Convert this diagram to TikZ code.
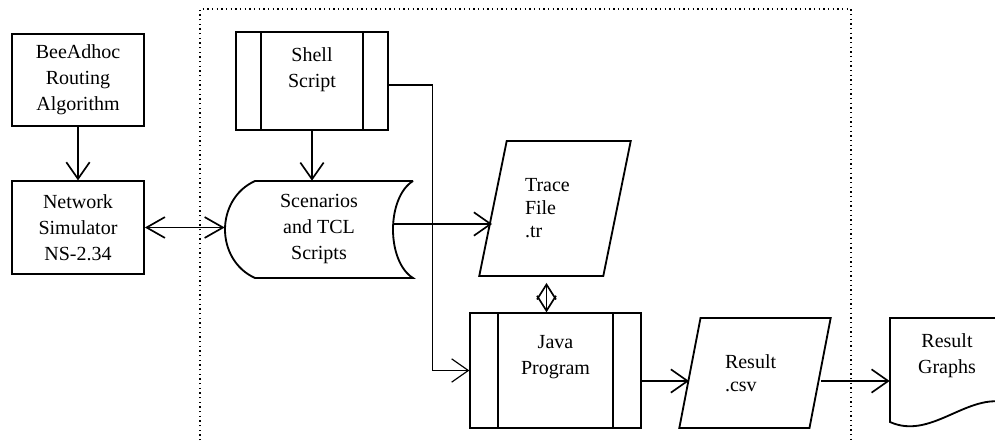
\documentclass[tikz,border=0pt]{standalone}
\usepackage{fontspec}
\setmainfont{Liberation Serif}
\usetikzlibrary{arrows.meta,positioning,calc,shapes.geometric}

\begin{document}
\begin{tikzpicture}[
    x=0.6pt, y=-0.6pt,
    font=\fontsize{12}{15.6}\selectfont,
    proc/.style={
      draw, line width=1.1pt, align=center,
      minimum width=79.2pt, minimum height=55.5pt
    },
    subproc/.style={
      draw, line width=0.8pt, align=center,
      path picture={
        \draw[line width=1pt] ([xshift=#1]path picture bounding box.north west)
          -- ([xshift=#1]path picture bounding box.south west);
        \draw[line width=1pt] ([xshift=-#1]path picture bounding box.north east)
          -- ([xshift=-#1]path picture bounding box.south east);
      }
    },
    store/.style={align=center, minimum width=112.8pt, minimum height=58.2pt},
    datafile/.style={
      draw, line width=1.1pt, trapezium, trapezium left angle=74,
      trapezium right angle=106, trapezium stretches=true,
      minimum width=91.2pt, align=left, text width=36pt,
      font=\fontsize{12}{13.8}\selectfont
    },
    docu/.style={align=center, minimum width=68.4pt, minimum height=66pt,
      text depth=23pt},
    arr/.style={-{Straight Barb[length=10pt,width=14pt]}, line width=1pt},
    dbl/.style={{Straight Barb[length=11pt,width=12.5pt]}-{Straight Barb[length=11pt,width=12.5pt]},
      line width=1pt},
    thinarr/.style={-{Straight Barb[length=10pt,width=14pt]}, line width=0.7pt},
    diam/.style={{Straight Barb[length=9pt,width=11.4pt]}-{Straight Barb[length=9pt,width=11.4pt]},
      line width=1pt, shorten <=3.6pt}
  ]

  \useasboundingbox (0,0) rectangle (995,442);
  \clip (0,0) rectangle (995,442);

  % dotted frame round the simulation part
  \draw[dotted, line width=0.8pt] (200,445) -- (200,9) -- (851,9) -- (851,445);

  \node[proc] (bee) at (78,80) {BeeAdhoc\\Routing\\Algorithm};
  \node[proc] (ns) at (78,227.5) {Network\\Simulator\\NS-2.34};
  \node[subproc=15pt, minimum width=91.2pt, minimum height=58.8pt,
        text depth=15.8pt] (shell) at (312,81) {Shell\\Script};
  \node[store] (scen) at (319,229.5) {Scenarios\\and TCL\\Scripts};
  \node[datafile, minimum height=81pt] (trace) at (555,208.5) {Trace\\File\\.tr};
  \node[subproc=16.8pt, minimum width=102.6pt, minimum height=69pt,
        text depth=18.2pt] (java) at (555.5,370.5) {Java\\Program};
  \node[datafile, minimum height=66pt] (res) at (755,373) {Result\\.csv};
  \node[docu] (graphs) at (947,373) {Result\\Graphs};

  % stored data outline
  \draw[line width=1.1pt] (413,181) -- (255,181)
    .. controls (235,190) and (225,210) .. (225,229.5)
    .. controls (225,249) and (235,269) .. (255,278) -- (413,278)
    .. controls (400,270) and (393,250) .. (393,229.5)
    .. controls (393,209) and (400,189) .. (413,181);

  % document outline
  \draw[line width=1.1pt] (1004,402) -- (1004,318) -- (890,318) -- (890,422)
    .. controls (930,440) and (965,395) .. (1004,402);

  \draw[arr] (bee) -- (ns);
  \draw[arr] (shell.south) -- (shell.south |- scen.north);
  \draw[dbl] (ns.east) -- (ns.east -| scen.west);
  \draw[thinarr] ([yshift=-2.4pt]shell.east) -- ++(26.4pt,0) |- (java.west);

  \coordinate (scenout) at ([xshift=-12pt,yshift=3.3pt]scen.east);
  \draw[arr] (scenout) -- (scenout -| trace.west);

  \coordinate (jtop) at ([xshift=-5.4pt]java.north);
  \draw[diam] (jtop |- trace.south) -- (jtop);

  \draw[arr] ([yshift=-6.3pt]java.east) -- ([yshift=-6.3pt]java.east -| res.west);
  \draw[arr] ([yshift=-4.8pt]res.east) -- ([yshift=-4.8pt]res.east -| graphs.west);

\end{tikzpicture}
\end{document}
